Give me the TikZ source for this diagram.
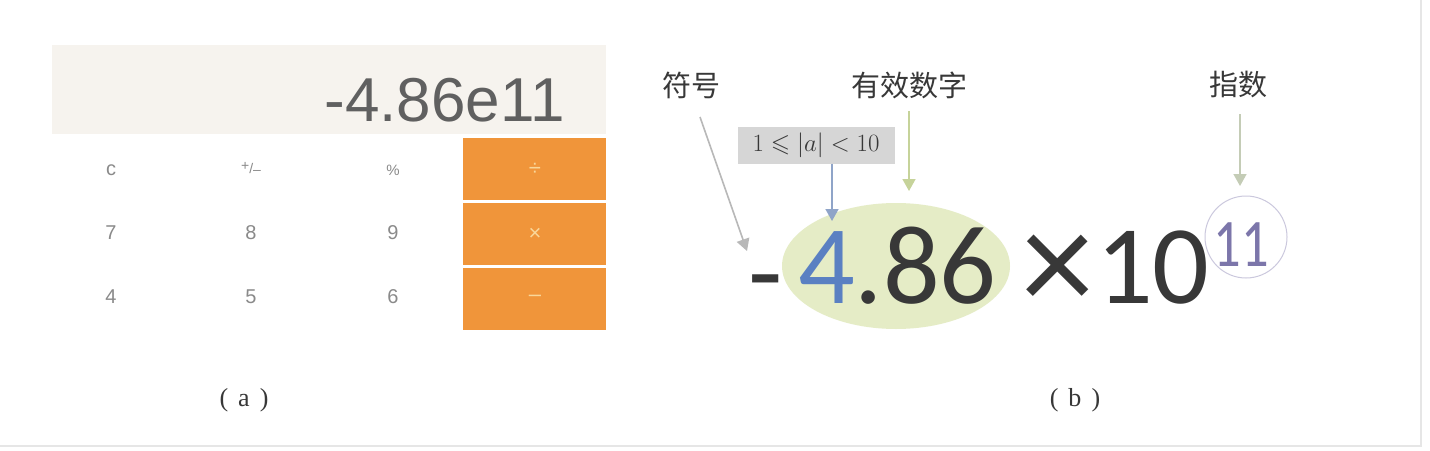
\documentclass[tikz,border=0pt]{standalone}
\usepackage{amssymb}
\usepackage{fontspec}
\setmainfont{Liberation Serif}
\newfontfamily\calcfont{Liberation Sans}
\newfontfamily\bigfont{Carlito}
\newfontfamily\cjk{Noto Sans CJK SC}
\usetikzlibrary{arrows.meta}
\definecolor{dispbg}{HTML}{F6F3EE}
\definecolor{keyorange}{HTML}{F0953A}
\definecolor{keysym}{HTML}{F9D79A}
\definecolor{keytext}{HTML}{8A8A8A}
\definecolor{darktext}{HTML}{383838}
\definecolor{bluefour}{HTML}{5A80C2}
\definecolor{greenell}{HTML}{E5ECC6}
\definecolor{purpleexp}{HTML}{7C76AA}
\definecolor{arrgray}{HTML}{B8B8B8}
\definecolor{arrblue}{HTML}{8FA4C8}
\definecolor{arrgreen}{HTML}{C6D39A}
\definecolor{arrsage}{HTML}{C4CCB6}
\definecolor{boxgray}{HTML}{D6D6D6}
\definecolor{edgegray}{HTML}{E6E6E6}
\tikzset{
  keylbl/.style={font=\calcfont\fontsize{20}{20}\selectfont, text=keytext, inner sep=0pt},
  opsym/.style={font=\calcfont\fontsize{22}{22}\selectfont, text=keysym, inner sep=0pt},
  cjklbl/.style={font=\cjk\fontsize{29}{29}\selectfont, text=darktext, inner sep=0pt},
  captionlbl/.style={font=\fontsize{26}{26}\selectfont, text=darktext, inner sep=0pt},
  pointer/.style={line width=1.6pt, -{Triangle[width=13pt,length=12pt]}},
  bigtxt/.style={font=\bigfont\fontsize{112}{112}\selectfont, text=darktext, inner sep=0pt}
}
\begin{document}
\begin{tikzpicture}[x=1pt,y=-1pt]
\useasboundingbox (0,0) rectangle (1430,450);
\fill[white] (0,0) rectangle (1430,450);
\draw[edgegray, line width=2pt] (1421,0) -- (1421,446) -- (0,446);
% ---------- calculator (a)
\fill[dispbg] (52,45) rectangle (606,134);
\node[font=\calcfont\fontsize{62}{62}\selectfont, text=darktext!80, anchor=base east, inner sep=0pt] (disp) at (565,121) {-4.86e11};
\fill[keyorange] (463,138) rectangle (606,200);
\fill[keyorange] (463,203) rectangle (606,265);
\fill[keyorange] (463,268) rectangle (606,330);
\node[keylbl] (kc) at (111,170) {c};
\node[keylbl, font=\calcfont\fontsize{14}{14}\selectfont] (kpm) at (251,168) {\raisebox{3pt}{+}/\raisebox{-1pt}{–}};
\node[keylbl, font=\calcfont\fontsize{15}{15}\selectfont] (kpc) at (393,170) {\%};
\node[keylbl] (k7) at (111,233) {7};
\node[keylbl] (k8) at (251,233) {8};
\node[keylbl] (k9) at (393,233) {9};
\node[keylbl] (k4) at (111,297) {4};
\node[keylbl] (k5) at (251,297) {5};
\node[keylbl] (k6) at (393,297) {6};
\node[opsym] (kdiv) at (535,169) {÷};
\node[opsym] (kmul) at (535,234) {×};
\node[opsym] (ksub) at (535,298) {–};
\node[captionlbl] (capa) at (244,400) {(\hspace{10pt}a\hspace{10pt})};
% ---------- notation (b)
\fill[greenell] (896,266) ellipse [x radius=114, y radius=63];
\draw[purpleexp!40, line width=1pt] (1246,237) circle [radius=41];
\node[bigtxt, anchor=base west] (sign) at (748,310) {-};
\node[bigtxt, anchor=base west] (mant) at (798,303) {\textcolor{bluefour}{4}.86};
\node[bigtxt, font=\bigfont\fontsize{146}{146}\selectfont] (times) at (1058,273) {×};
\node[bigtxt, anchor=base west] (ten) at (1096,303) {10};
\node[font=\bigfont\fontsize{68}{68}\selectfont, text=purpleexp, inner sep=0pt] (expo) at (1241,245) {\scalebox{0.8}[1]{11}};
\node[cjklbl] (lsign) at (691,85) {符号};
\node[cjklbl] (lsig) at (909,85) {有效数字};
\node[cjklbl] (lexp) at (1238,85) {指数};
\node[fill=boxgray, minimum width=157pt, minimum height=37pt, inner sep=0pt, font=\fontsize{25}{25}\selectfont, text=darktext] (rng) at (816,145) {$1\leqslant |a| < 10$};
\coordinate (psign) at (747,251);
\coordinate (pfour) at (832,221);
\coordinate (psig) at (909,191);
\coordinate (pexp) at (1240,186);
\coordinate (ssign) at (700,117);
\coordinate (ssig) at (909,111);
\coordinate (sexp) at (1240,114);
\draw[pointer, arrgray] (ssign) -- (psign);
\draw[pointer, arrblue] (rng.south -| pfour) -- (pfour);
\draw[pointer, arrgreen] (ssig) -- (psig);
\draw[pointer, arrsage] (sexp) -- (pexp);
\node[captionlbl] (capb) at (1075,400) {(\hspace{10pt}b\hspace{10pt})};
\end{tikzpicture}
\end{document}
